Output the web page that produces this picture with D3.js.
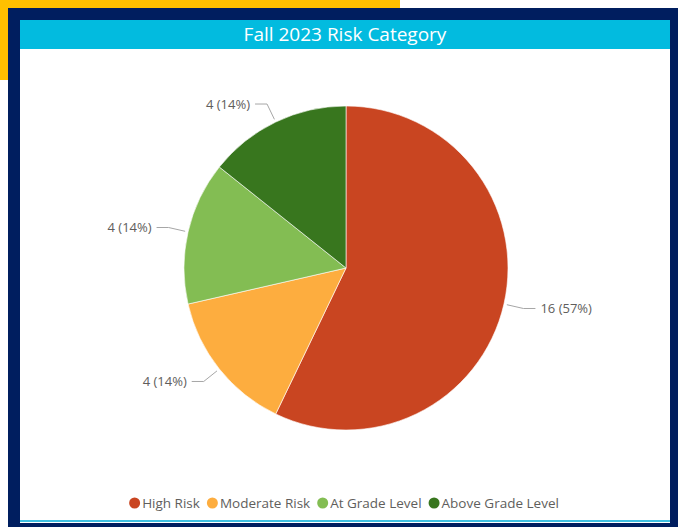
<!DOCTYPE html>
<html><head><meta charset="utf-8">
<script src="https://cdn.jsdelivr.net/npm/d3@7"></script>
<style>
html,body{margin:0;padding:0;background:#fff;}
svg{display:block;}
text{font-family:"Segoe UI","Open Sans","Noto Sans",sans-serif;}
</style></head>
<body>
<svg id="chart" width="678" height="527"></svg>
<script>
const title = "Fall 2023 Risk Category";
const categories = ["High Risk", "Moderate Risk", "At Grade Level", "Above Grade Level"];
const values = [16, 4, 4, 4];
const colors = ["#C94521", "#FDAD3F", "#83BD53", "#38761E"];

const svg = d3.select("#chart");
const W = 678, H = 527;

// frame decorations
svg.append("rect").attr("x",0).attr("y",0).attr("width",400).attr("height",80).attr("fill","#FFC000");
svg.append("rect").attr("x",8).attr("y",8).attr("width",W-8).attr("height",H-8).attr("fill","#001E5F");
svg.append("rect").attr("x",20).attr("y",20).attr("width",650).attr("height",503).attr("fill","#ffffff");
svg.append("rect").attr("x",20).attr("y",520).attr("width",650).attr("height",2).attr("fill","#3EC0E0");
svg.append("rect").attr("x",20).attr("y",20).attr("width",650).attr("height",29).attr("fill","#02BBDF");
svg.append("text").attr("x",345).attr("y",40.5).attr("text-anchor","middle")
  .attr("fill","#ffffff").attr("font-size",19).text(title);

const total = d3.sum(values);
const data = categories.map((c,i)=>({cat:c, value:values[i], color:colors[i]}));
const cx = 346, cy = 268, R = 162;
const pie = d3.pie().value(d=>d.value).sort(null);
const arcs = pie(data);
const arc = d3.arc().innerRadius(0).outerRadius(R);

const g = svg.append("g").attr("transform",`translate(${cx},${cy})`);
g.selectAll("path.slice").data(arcs).enter().append("path")
  .attr("class","slice").attr("d",arc).attr("fill",d=>d.data.color)
  .attr("stroke","#ffffff").attr("stroke-width",0.6);

// labels with leader lines
arcs.forEach(a=>{
  const m = (a.startAngle + a.endAngle)/2;
  const dx = Math.sin(m), dy = -Math.cos(m);
  const p0 = [dx*(R+3), dy*(R+3)];
  const p1 = [dx*(R+20), dy*(R+20)];
  const side = dx >= 0 ? 1 : -1;
  const p2 = [p1[0] + side*12, p1[1]];
  g.append("polyline").attr("points",[p0,p1,p2].map(p=>p.join(",")).join(" "))
    .attr("fill","none").attr("stroke","#A6A6A6").attr("stroke-width",1);
  const pct = Math.round(a.data.value/total*100);
  g.append("text").attr("x",p2[0]+side*5).attr("y",p2[1]).attr("dy","0.35em")
    .attr("text-anchor", side>0 ? "start" : "end")
    .attr("font-size",13).attr("fill","#605E5C")
    .text(`${a.data.value} (${pct}%)`);
});

// legend
const leg = svg.append("g");
let x = 0;
data.forEach(d=>{
  const it = leg.append("g");
  it.append("circle").attr("cx",x+5.5).attr("cy",0).attr("r",5.5).attr("fill",d.color);
  const t = it.append("text").attr("x",x+13).attr("y",0).attr("dy","0.35em")
    .attr("font-size",13.5).attr("fill","#605E5C").text(d.cat);
  x += 13 + t.node().getComputedTextLength() + 7;
});
const legW = x - 7;
leg.attr("transform",`translate(${344 - legW/2},503)`);
</script>
</body></html>
